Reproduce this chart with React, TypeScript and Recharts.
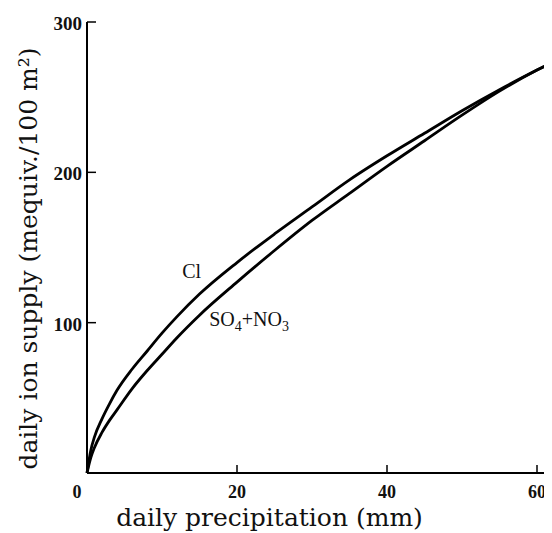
import React from "react";
import { LineChart, Line, XAxis, YAxis, ReferenceDot } from "recharts";

// (mm vs mequiv./100 m²)
const precip = [0, 0.5, 1, 2, 3, 4, 6, 8, 10, 12, 15, 20, 25, 30, 35, 40, 45, 50, 55, 60, 62];
const clSupply = [0, 15, 24, 36, 46, 55, 69, 81, 93, 104, 119, 140, 159, 177, 195, 211, 226, 241, 255, 268, 273];
const so4no3Supply = [0, 10, 17, 27, 35, 42, 56, 68, 79, 90, 105, 127, 148, 168, 186, 204, 221, 238, 254, 268, 273];

const xTicks = [0, 20, 40, 60];
const yTicks = [100, 200, 300];

const data = precip.map((p, i) => ({ p, cl: clSupply[i], so4: so4no3Supply[i] }));

const FONT = "'Liberation Serif', 'DejaVu Serif', serif";
const LABEL_FONT = "'DejaVu Serif', 'Liberation Serif', serif";

function XTick(props: any) {
  const { x, y, payload } = props;
  return (
    <g>
      {payload.value !== 0 && (
        <line x1={x} x2={x} y1={y} y2={y - 8} stroke="#000" strokeWidth={1.5} />
      )}
      <text
        x={payload.value === 0 ? x - 10 : x}
        y={y + 25}
        textAnchor="middle"
        fontFamily={FONT}
        fontSize={18}
        fontWeight="bold"
        fill="#111"
      >
        {payload.value}
      </text>
    </g>
  );
}

function YTick(props: any) {
  const { x, y, payload } = props;
  return (
    <g>
      <line x1={x} x2={x + 9} y1={y} y2={y} stroke="#000" strokeWidth={1.5} />
      <text
        x={x - 5}
        y={y + 8}
        textAnchor="end"
        fontFamily={FONT}
        fontSize={19}
        fontWeight="bold"
        fill="#111"
      >
        {payload.value}
      </text>
    </g>
  );
}

function XTitle(props: any) {
  const { viewBox } = props;
  return (
    <text
      x={viewBox.x - 50 + viewBox.width / 2}
      y={viewBox.y + 53}
      textAnchor="middle"
      fontFamily={LABEL_FONT}
      fontSize={25}
      fill="#111"
    >
      daily precipitation (mm)
    </text>
  );
}

function YTitle(props: any) {
  const { viewBox } = props;
  const cx = 29;
  const cy = viewBox.y + viewBox.height / 2 + 11;
  return (
    <text
      x={cx}
      y={cy}
      transform={`rotate(-90, ${cx}, ${cy})`}
      textAnchor="middle"
      fontFamily={LABEL_FONT}
      fontSize={25}
      fill="#111"
    >
      daily ion supply (mequiv./100 m²)
    </text>
  );
}

function CurveLabel(props: any) {
  const { viewBox, parts } = props;
  const cx = viewBox?.cx ?? viewBox?.x ?? 0;
  const cy = viewBox?.cy ?? viewBox?.y ?? 0;
  return (
    <text x={cx} y={cy} fontFamily={FONT} fontSize={20} fill="#111" textAnchor="start">
      {parts.map((pt: [string, boolean], i: number) =>
        pt[1] ? (
          <tspan key={i} fontSize={14} dy={5}>
            {pt[0]}
          </tspan>
        ) : (
          <tspan key={i} dy={i > 0 && parts[i - 1][1] ? -5 : 0}>
            {pt[0]}
          </tspan>
        )
      )}
    </text>
  );
}

export default function App() {
  return (
    <LineChart
      width={544}
      height={525}
      data={data}
      margin={{ top: 14, right: 0, bottom: 0, left: 0 }}
    >
      <XAxis
        dataKey="p"
        type="number"
        domain={[0, 61.6]}
        ticks={xTicks}
        tickSize={0}
        tickMargin={0}
        tick={<XTick />}
        stroke="#000"
        strokeWidth={2}
        height={60}
        label={<XTitle />}
      />
      <YAxis
        type="number"
        domain={[0, 300]}
        ticks={yTicks}
        tickSize={0}
        tickMargin={0}
        tick={<YTick />}
        stroke="#000"
        strokeWidth={2}
        width={79}
        label={<YTitle />}
      />
      <Line
        type="monotone"
        dataKey="cl"
        stroke="#000"
        strokeWidth={2.8}
        dot={false}
        isAnimationActive={false}
      />
      <Line
        type="monotone"
        dataKey="so4"
        stroke="#000"
        strokeWidth={2.8}
        dot={false}
        isAnimationActive={false}
      />
      <ReferenceDot
        x={12.7}
        y={130}
        r={0}
        stroke="none"
        label={<CurveLabel parts={[["Cl", false]]} />}
      />
      <ReferenceDot
        x={16.3}
        y={98}
        r={0}
        stroke="none"
        label={
          <CurveLabel
            parts={[
              ["SO", false],
              ["4", true],
              ["+NO", false],
              ["3", true],
            ]}
          />
        }
      />
    </LineChart>
  );
}
